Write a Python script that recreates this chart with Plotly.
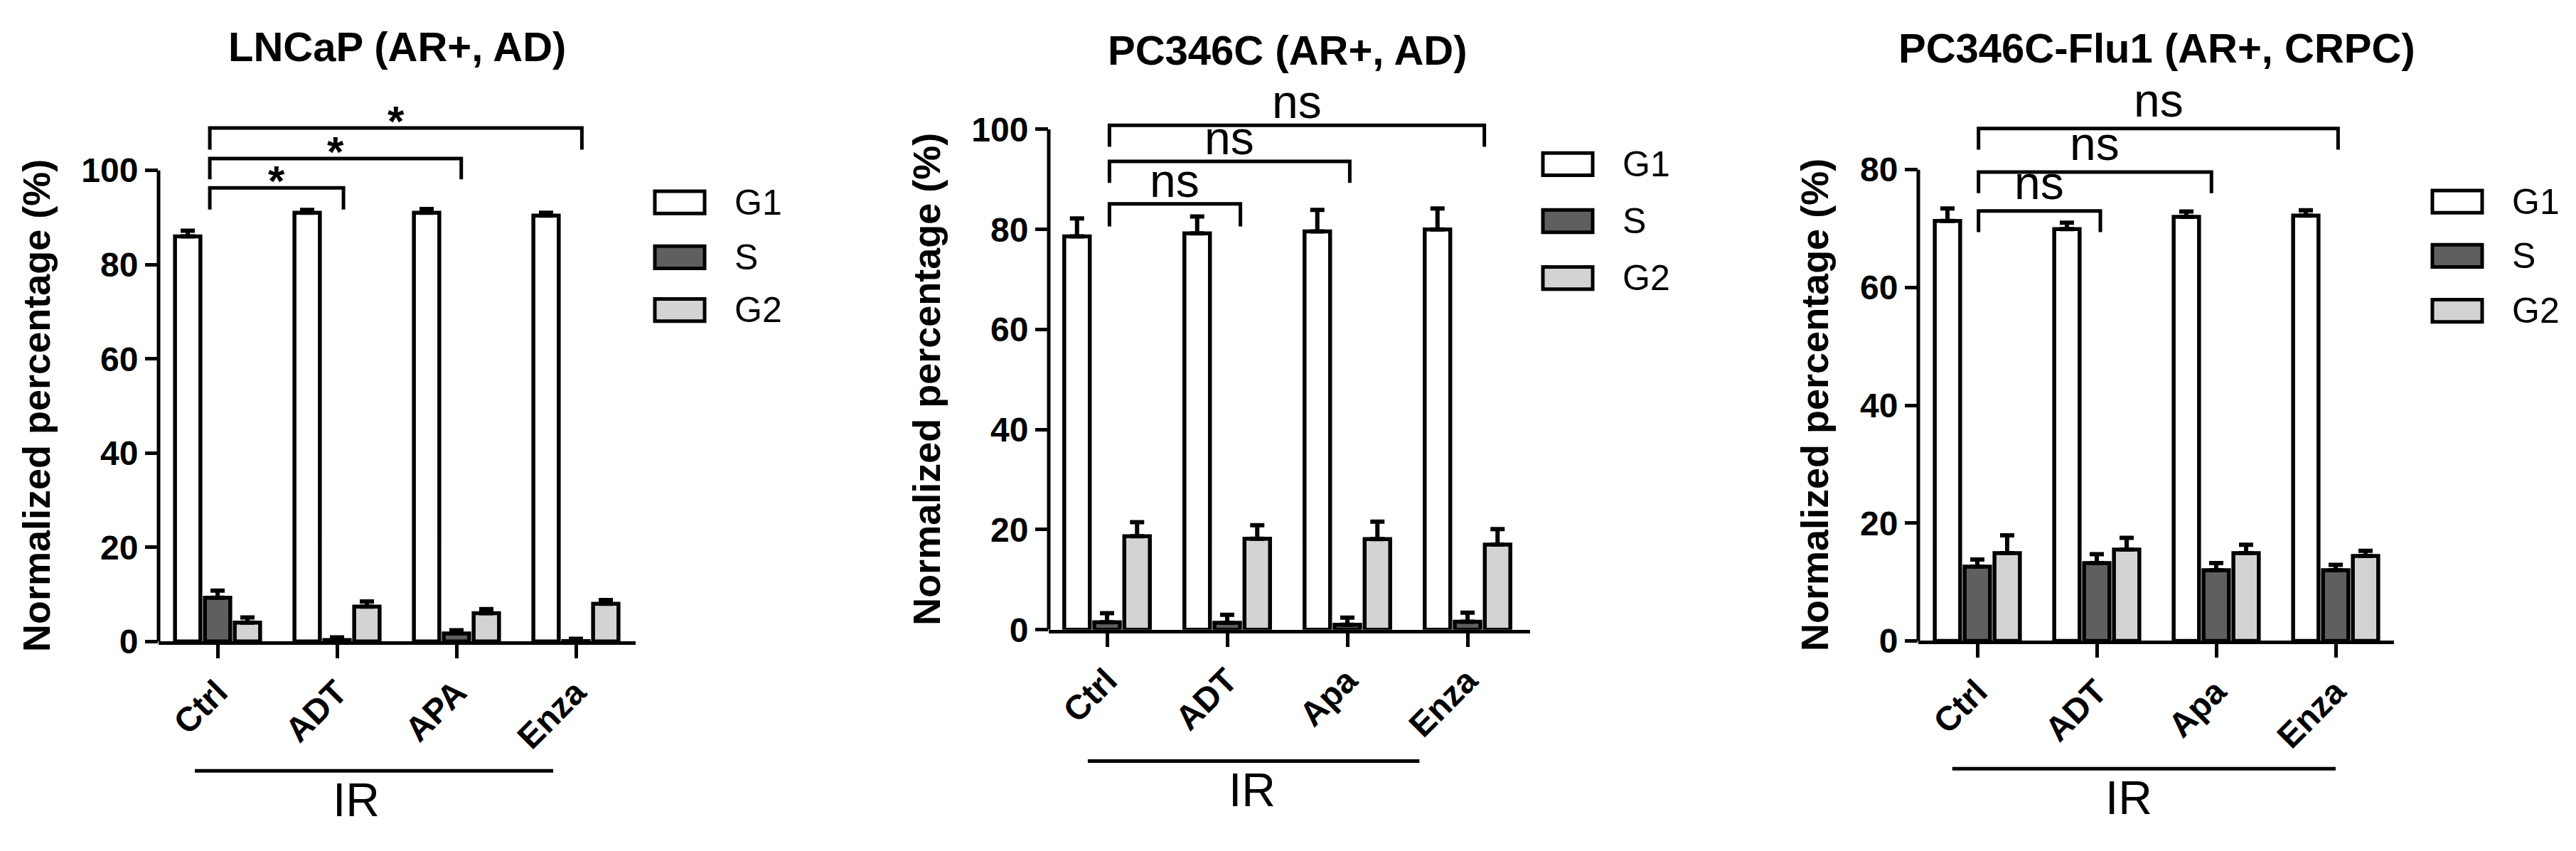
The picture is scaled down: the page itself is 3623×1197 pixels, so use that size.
import plotly.graph_objects as go

W, H = 3623, 1197
FONT = "Arial, Liberation Sans, sans-serif"

phases = ["G1", "S", "G2"]
phase_colors = ["#ffffff", "#5f5f5f", "#d3d3d3"]

# LNCaP (AR+, AD)
lncap_labels = ["Ctrl", "ADT", "APA", "Enza"]
lncap_g1 = [86.0, 91.0, 91.0, 90.4]
lncap_g1_err = [1.2, 0.6, 0.8, 0.6]
lncap_s = [9.3, 0.3, 1.7, 0.1]
lncap_s_err = [1.5, 0.6, 0.7, 0.5]
lncap_g2 = [4.0, 7.4, 6.0, 8.0]
lncap_g2_err = [1.1, 1.1, 0.9, 0.8]
lncap_sig = ["*", "*", "*"]

# PC346C (AR+, AD)
pc346_labels = ["Ctrl", "ADT", "Apa", "Enza"]
pc346_g1 = [78.6, 79.2, 79.6, 80.0]
pc346_g1_err = [3.6, 3.4, 4.3, 4.2]
pc346_s = [1.5, 1.4, 1.0, 1.6]
pc346_s_err = [1.8, 1.6, 1.4, 1.8]
pc346_g2 = [18.7, 18.2, 18.1, 17.0]
pc346_g2_err = [2.8, 2.7, 3.5, 3.1]
pc346_sig = ["ns", "ns", "ns"]

# PC346C-Flu1 (AR+, CRPC)
flu1_labels = ["Ctrl", "ADT", "Apa", "Enza"]
flu1_g1 = [71.3, 69.9, 72.0, 72.2]
flu1_g1_err = [2.1, 1.1, 0.9, 0.9]
flu1_s = [12.6, 13.2, 12.0, 12.0]
flu1_s_err = [1.2, 1.5, 1.2, 0.9]
flu1_g2 = [14.9, 15.5, 14.9, 14.4]
flu1_g2_err = [3.0, 2.0, 1.4, 0.9]
flu1_sig = ["ns", "ns", "ns"]

panels = [
    dict(title="LNCaP (AR+, AD)", title_y=59, labels=lncap_labels,
         values=[lncap_g1, lncap_s, lncap_g2], errors=[lncap_g1_err, lncap_s_err, lncap_g2_err],
         sig=lncap_sig, sig_size=60, sig_bold=True, sig_shift=-25,
         left=215, first=298, step=168, xmax=3.5, base=915, unit=6.78, ymax=112, ytop=100,
         brackets=[(-0.065, 1.054, 96.3, 91.7), (-0.065, 2.04, 102.5, 98.1), (-0.065, 3.05, 109.0, 104.4)],
         ir=(-0.19, 2.81, 1101, 1.16), legend_x=913, legend_y=[283, 362, 438], ylab_shift=-140),
    dict(title="PC346C (AR+, AD)", title_y=64, labels=pc346_labels,
         values=[pc346_g1, pc346_s, pc346_g2], errors=[pc346_g1_err, pc346_s_err, pc346_g2_err],
         sig=pc346_sig, sig_size=66, sig_bold=False, sig_shift=-5,
         left=1467, first=1549, step=169, xmax=3.52, base=898, unit=7.2, ymax=104, ytop=100,
         brackets=[(0.02, 1.11, 85.1, 80.6), (0.02, 2.02, 93.6, 89.3), (0.02, 3.14, 100.8, 96.5)],
         ir=(-0.16, 2.6, 1087, 1.21), legend_x=2162, legend_y=[228, 310, 392], ylab_shift=-140),
    dict(title="PC346C-Flu1 (AR+, CRPC)", title_y=61, labels=flu1_labels,
         values=[flu1_g1, flu1_s, flu1_g2], errors=[flu1_g1_err, flu1_s_err, flu1_g2_err],
         sig=flu1_sig, sig_size=66, sig_bold=False, sig_shift=2,
         left=2690, first=2773, step=168, xmax=3.49, base=914, unit=8.475, ymax=90, ytop=80,
         brackets=[(0.01, 1.03, 73.0, 69.4), (0.01, 1.96, 79.6, 76.0), (0.01, 3.02, 87.0, 83.4)],
         ir=(-0.21, 3.0, 1098, 1.27), legend_x=3413, legend_y=[282, 360, 439], ylab_shift=-114),
]

fig = go.Figure()
shapes = []
annotations = []
layout_axes = {}

for i, p in enumerate(panels):
    n = "" if i == 0 else str(i + 1)
    xa, ya = "x" + n, "y" + n

    for j, phase in enumerate(phases):
        fig.add_trace(go.Bar(
            x=p["labels"], y=p["values"][j], name=phase, showlegend=False,
            marker=dict(color=phase_colors[j], line=dict(color="black", width=5.5)),
            error_y=dict(type="data", array=p["errors"][j], arrayminus=[0] * len(p["labels"]),
                         symmetric=False, color="black", thickness=6, width=10),
            xaxis=xa, yaxis=ya,
        ))

    xmin = -(p["first"] - p["left"]) / p["step"]
    x_right = p["first"] + p["xmax"] * p["step"]
    y_top_px = p["base"] - p["ymax"] * p["unit"]

    layout_axes["xaxis" + n] = dict(
        domain=[p["left"] / W, x_right / W], range=[xmin, p["xmax"]], type="category",
        anchor=ya, showline=True, linewidth=5, linecolor="black",
        ticks="outside", ticklen=19, tickwidth=5, tickcolor="black", tickangle=-45,
        tickfont=dict(family=FONT, size=48, color="black", weight="bold"),
        showgrid=False, zeroline=False,
    )
    layout_axes["yaxis" + n] = dict(
        domain=[1 - p["base"] / H, 1 - y_top_px / H], range=[0, p["ymax"]],
        anchor=xa, showline=False, ticks="outside", ticklen=18, tickwidth=5, tickcolor="black",
        tickvals=list(range(0, p["ytop"] + 1, 20)),
        tickfont=dict(family=FONT, size=48, color="black", weight="bold"),
        showgrid=False, zeroline=False,
    )

    # y axis line only up to the last tick
    shapes.append(dict(type="line", xref=xa + " domain", yref=ya, x0=0, x1=0, y0=0, y1=p["ytop"],
                       line=dict(color="black", width=5)))

    # significance brackets
    for (bx0, bx1, btop, bend), label in zip(p["brackets"], p["sig"]):
        shapes.append(dict(type="path", xref=xa, yref=ya,
                           path=f"M {bx0},{bend} L {bx0},{btop} L {bx1},{btop} L {bx1},{bend}",
                           line=dict(color="black", width=5)))
        annotations.append(dict(xref=xa, yref=ya, x=(bx0 + bx1) / 2, y=btop, text=label,
                                showarrow=False, yanchor="bottom", yshift=p["sig_shift"],
                                borderpad=0,
                                font=dict(family=FONT, size=p["sig_size"], color="black",
                                          weight="bold" if p["sig_bold"] else "normal")))

    # title
    annotations.append(dict(xref=xa, yref="paper", x=1.5, y=1 - p["title_y"] / H, text=p["title"],
                            showarrow=False, yanchor="middle", borderpad=0,
                            font=dict(family=FONT, size=58, color="black", weight="bold")))

    # y axis title
    annotations.append(dict(xref=xa + " domain", yref=ya, x=0, y=p["ytop"] / 2,
                            text="Normalized percentage (%)", textangle=-90, showarrow=False,
                            xanchor="right", xshift=p["ylab_shift"],
                            font=dict(family=FONT, size=54, color="black", weight="bold")))

    # IR line and label
    ir_x0, ir_x1, ir_y, ir_lx = p["ir"]
    shapes.append(dict(type="line", xref=xa, yref="paper", x0=ir_x0, x1=ir_x1,
                       y0=1 - ir_y / H, y1=1 - ir_y / H, line=dict(color="black", width=5)))
    annotations.append(dict(xref=xa, yref="paper", x=ir_lx, y=1 - ir_y / H, text="IR",
                            showarrow=False, yanchor="top", yshift=-2,
                            font=dict(family=FONT, size=66, color="black")))

    # legend
    for j, phase in enumerate(phases):
        cy = p["legend_y"][j]
        lx = p["legend_x"]
        shapes.append(dict(type="rect", xref="paper", yref="paper",
                           x0=lx / W, x1=(lx + 70) / W, y0=1 - (cy + 16) / H, y1=1 - (cy - 16) / H,
                           fillcolor=phase_colors[j], line=dict(color="black", width=5)))
        annotations.append(dict(xref="paper", yref="paper", x=(lx + 110) / W, y=1 - cy / H,
                                text=phase, showarrow=False, xanchor="left", yanchor="middle",
                                font=dict(family=FONT, size=50, color="black")))

fig.update_layout(
    width=W, height=H, margin=dict(l=0, r=0, t=0, b=0),
    paper_bgcolor="white", plot_bgcolor="white",
    barmode="group", bargap=0.25, bargroupgap=0.15, showlegend=False,
    shapes=shapes, annotations=annotations,
    font=dict(family=FONT, color="black"),
    **layout_axes,
)

fig.write_html("out.html")
